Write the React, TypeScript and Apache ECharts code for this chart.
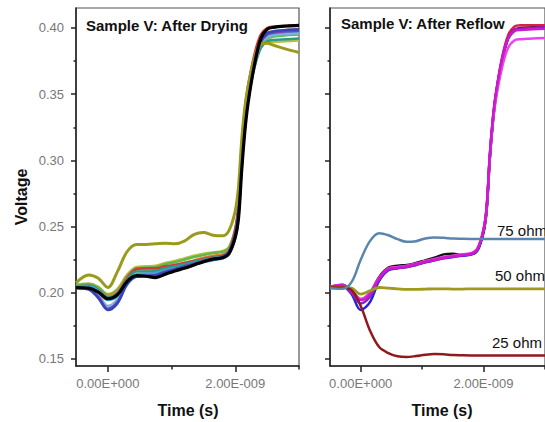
import React, { useEffect, useRef } from "react";
import * as echarts from "echarts";

// time in ns
const T = [-0.5, -0.3, -0.15, 0, 0.15, 0.3, 0.45, 0.6, 0.75, 0.9, 1.05, 1.2, 1.35, 1.5, 1.65, 1.8, 1.9, 2.0, 2.05, 2.1, 2.15, 2.2, 2.3, 2.4, 2.5, 2.6, 2.8, 3.0];

const yMajorTicks = [0.15, 0.2, 0.25, 0.3, 0.35, 0.4];
const yMinorTicks = [0.175, 0.225, 0.275, 0.325, 0.375];
const xMajorTicks = [0, 2];
const xMinorTicks = [1, 3];
const xTickLabels: Record<string, string> = { "0": "0.00E+000", "2": "2.00E-009" };

// Left panel: After Drying
const dryBlue = [0.2035, 0.2025, 0.196, 0.187, 0.192, 0.206, 0.212, 0.2125, 0.213, 0.2155, 0.2175, 0.2195, 0.2215, 0.2235, 0.225, 0.227, 0.231, 0.245, 0.262, 0.298, 0.326, 0.346, 0.373, 0.39, 0.396, 0.3975, 0.3985, 0.399];
const dryCyan = [0.2045, 0.2045, 0.2015, 0.1945, 0.1975, 0.208, 0.214, 0.2145, 0.215, 0.217, 0.2185, 0.22, 0.222, 0.2235, 0.225, 0.226, 0.229, 0.241, 0.256, 0.294, 0.324, 0.345, 0.374, 0.39, 0.395, 0.396, 0.397, 0.3975];
const dryTeal = [0.205, 0.2055, 0.2025, 0.1965, 0.1995, 0.21, 0.216, 0.216, 0.2165, 0.2185, 0.22, 0.2215, 0.2235, 0.225, 0.2265, 0.2275, 0.2305, 0.244, 0.26, 0.298, 0.326, 0.345, 0.37, 0.385, 0.39, 0.391, 0.3915, 0.392];
const dryGreen = [0.2055, 0.2065, 0.204, 0.1985, 0.202, 0.2125, 0.2185, 0.219, 0.2195, 0.2215, 0.223, 0.225, 0.227, 0.2285, 0.23, 0.231, 0.234, 0.248, 0.265, 0.305, 0.332, 0.35, 0.372, 0.387, 0.392, 0.3935, 0.3945, 0.395];
const dryOrange = [0.205, 0.2055, 0.203, 0.1975, 0.201, 0.212, 0.2175, 0.2175, 0.218, 0.2195, 0.221, 0.2225, 0.2245, 0.2265, 0.228, 0.229, 0.232, 0.247, 0.264, 0.303, 0.33, 0.349, 0.374, 0.39, 0.396, 0.3975, 0.3985, 0.399];
const dryRed = [0.2045, 0.2045, 0.202, 0.196, 0.1995, 0.211, 0.218, 0.2185, 0.2185, 0.22, 0.221, 0.2225, 0.224, 0.2255, 0.227, 0.228, 0.2315, 0.248, 0.268, 0.31, 0.338, 0.356, 0.38, 0.395, 0.4, 0.401, 0.4015, 0.402];
const dryPurple = [0.2035, 0.203, 0.197, 0.188, 0.193, 0.207, 0.2125, 0.213, 0.2135, 0.216, 0.218, 0.22, 0.222, 0.224, 0.2255, 0.2275, 0.2305, 0.244, 0.26, 0.296, 0.325, 0.345, 0.372, 0.389, 0.395, 0.3965, 0.3975, 0.398];
const dryLightBlue = [0.204, 0.204, 0.199, 0.19, 0.195, 0.2075, 0.2135, 0.2135, 0.214, 0.216, 0.218, 0.2195, 0.2215, 0.223, 0.2245, 0.226, 0.229, 0.242, 0.258, 0.295, 0.324, 0.344, 0.372, 0.388, 0.393, 0.3945, 0.3955, 0.396];
const dryYellowGreen = [0.206, 0.207, 0.2045, 0.199, 0.203, 0.2135, 0.2195, 0.22, 0.2205, 0.2225, 0.224, 0.226, 0.228, 0.2295, 0.2305, 0.2315, 0.2345, 0.249, 0.266, 0.305, 0.33, 0.348, 0.37, 0.385, 0.389, 0.3895, 0.39, 0.3905];
const dryOlive = [0.2075, 0.2135, 0.211, 0.204, 0.216, 0.231, 0.2365, 0.2365, 0.237, 0.2375, 0.237, 0.239, 0.244, 0.2455, 0.2435, 0.243, 0.247, 0.262, 0.28, 0.315, 0.34, 0.356, 0.377, 0.388, 0.3885, 0.387, 0.384, 0.3815];
const dryBlack = [0.204, 0.2035, 0.2005, 0.1955, 0.1985, 0.2085, 0.213, 0.2125, 0.2115, 0.214, 0.2165, 0.2185, 0.221, 0.2235, 0.2255, 0.2265, 0.2295, 0.242, 0.256, 0.292, 0.322, 0.343, 0.372, 0.392, 0.399, 0.4005, 0.4015, 0.402];

// Right panel: After Reflow
const reflowBlack = [0.2045, 0.2055, 0.202, 0.195, 0.2, 0.212, 0.219, 0.2205, 0.221, 0.2225, 0.2245, 0.2265, 0.229, 0.2295, 0.2285, 0.229, 0.232, 0.246, 0.262, 0.3, 0.328, 0.348, 0.375, 0.392, 0.3985, 0.4, 0.4005, 0.401];
const reflowBlue = [0.204, 0.205, 0.199, 0.187, 0.193, 0.209, 0.217, 0.2185, 0.2195, 0.221, 0.223, 0.2245, 0.226, 0.227, 0.228, 0.229, 0.232, 0.246, 0.263, 0.301, 0.329, 0.349, 0.376, 0.392, 0.398, 0.399, 0.3995, 0.4];
const reflowPurple = [0.204, 0.2055, 0.2, 0.192, 0.197, 0.21, 0.2175, 0.2185, 0.2195, 0.221, 0.223, 0.2245, 0.2262, 0.2272, 0.2282, 0.2292, 0.2325, 0.247, 0.264, 0.302, 0.33, 0.3495, 0.376, 0.3925, 0.3985, 0.3995, 0.4, 0.4005];
const reflowRed = [0.2045, 0.2058, 0.2012, 0.195, 0.1995, 0.2112, 0.2182, 0.2192, 0.2202, 0.2217, 0.2237, 0.2252, 0.2267, 0.2277, 0.2287, 0.2297, 0.233, 0.2475, 0.2645, 0.303, 0.331, 0.3505, 0.3775, 0.3945, 0.401, 0.402, 0.402, 0.402];
const reflowPink = [0.2045, 0.206, 0.2015, 0.1955, 0.2, 0.2115, 0.2185, 0.2195, 0.2205, 0.222, 0.224, 0.2255, 0.227, 0.228, 0.229, 0.23, 0.2335, 0.248, 0.264, 0.301, 0.328, 0.346, 0.37, 0.385, 0.3905, 0.3915, 0.392, 0.3925];
const reflowMagenta = [0.2045, 0.206, 0.201, 0.1945, 0.199, 0.211, 0.218, 0.219, 0.22, 0.2215, 0.2235, 0.225, 0.2265, 0.2275, 0.2285, 0.2295, 0.233, 0.248, 0.265, 0.303, 0.331, 0.35, 0.376, 0.392, 0.3975, 0.3985, 0.399, 0.3995];
const ohm75 = [0.2035, 0.203, 0.208, 0.225, 0.239, 0.245, 0.2435, 0.2405, 0.2385, 0.239, 0.241, 0.2418, 0.2415, 0.241, 0.2408, 0.2407, 0.2407, 0.2407, 0.2407, 0.2407, 0.2407, 0.2407, 0.2406, 0.2406, 0.2406, 0.2406, 0.2406, 0.2406];
const ohm50 = [0.204, 0.204, 0.2035, 0.199, 0.2015, 0.204, 0.2035, 0.203, 0.2025, 0.2025, 0.2028, 0.203, 0.203, 0.2028, 0.2028, 0.203, 0.203, 0.203, 0.203, 0.203, 0.203, 0.203, 0.203, 0.203, 0.203, 0.203, 0.203, 0.203];
const ohm25 = [0.204, 0.204, 0.202, 0.19, 0.1715, 0.159, 0.1545, 0.152, 0.1515, 0.1522, 0.1532, 0.1537, 0.1535, 0.153, 0.1528, 0.1527, 0.1527, 0.1527, 0.1527, 0.1527, 0.1527, 0.1527, 0.1526, 0.1526, 0.1526, 0.1526, 0.1526, 0.1526];

const leftSeries: [number[], string, number][] = [
  [dryYellowGreen, "#b5c23a", 2.5],
  [dryGreen, "#5fb84a", 2.5],
  [dryOrange, "#e0822e", 2.5],
  [dryRed, "#d23a3a", 2.5],
  [dryTeal, "#2a9a8c", 2.5],
  [dryLightBlue, "#7fb2e0", 2.5],
  [dryCyan, "#38a8d2", 2.5],
  [dryPurple, "#7a44a8", 2.5],
  [dryBlue, "#3344c0", 2.5],
  [dryOlive, "#9a9a1e", 3],
  [dryBlack, "#000000", 3.2],
];

const rightSeries: [number[], string, number][] = [
  [reflowBlack, "#111111", 2.5],
  [reflowBlue, "#2222d8", 2.5],
  [reflowRed, "#d8204a", 2.5],
  [reflowPurple, "#8a22c8", 2.5],
  [reflowPink, "#ea44ee", 2.5],
  [reflowMagenta, "#cc1acc", 2.5],
  [ohm50, "#9e9a1c", 2.8],
  [ohm25, "#8e1a1e", 2.5],
  [ohm75, "#5a86ae", 2.5],
];

const FONT = "'Liberation Sans', Arial, sans-serif";
const X_MIN = -0.5, X_MAX = 3.0, Y_MIN = 0.1447, Y_MAX = 0.4151;

function makeAxes(gridIndex: number, showYLabels: boolean) {
  const axisLine = { show: true, onZero: false, lineStyle: { color: "#222", width: 1.5 } };
  const noLine = { show: false, onZero: false };
  const xAxes = [
    {
      type: "value", gridIndex, min: X_MIN, max: X_MAX, position: "bottom",
      axisLine, splitLine: { show: false },
      axisTick: { show: true, customValues: xMajorTicks, length: 6, lineStyle: { color: "#222", width: 1.5 } },
      axisLabel: {
        show: true, customValues: xMajorTicks, margin: 11, color: "#777", fontSize: 13, fontFamily: FONT,
        formatter: (v: number) => xTickLabels[String(Math.round(v))] ?? "",
      },
    },
    {
      type: "value", gridIndex, min: X_MIN, max: X_MAX, position: "bottom",
      axisLine: noLine, splitLine: { show: false },
      axisTick: { show: true, customValues: xMinorTicks, length: 3.5, lineStyle: { color: "#222", width: 1.5 } },
      axisLabel: { show: false },
    },
  ];
  const yAxes = [
    {
      type: "value", gridIndex, min: Y_MIN, max: Y_MAX, position: "left",
      axisLine, splitLine: { show: false },
      axisTick: { show: true, customValues: yMajorTicks, length: 5, lineStyle: { color: "#222", width: 1.5 } },
      axisLabel: {
        show: showYLabels, customValues: yMajorTicks, margin: 12, color: "#777", fontSize: 13, fontFamily: FONT,
        formatter: (v: number) => v.toFixed(2),
      },
    },
    {
      type: "value", gridIndex, min: Y_MIN, max: Y_MAX, position: "left",
      axisLine: noLine, splitLine: { show: false },
      axisTick: { show: true, customValues: yMinorTicks, length: 2.5, lineStyle: { color: "#222", width: 1.5 } },
      axisLabel: { show: false },
    },
  ];
  return { xAxes, yAxes };
}

export default function App() {
  const ref = useRef<HTMLDivElement>(null);
  useEffect(() => {
    if (!ref.current) return;
    const chart = echarts.init(ref.current, undefined, { renderer: "svg" });
    const a0 = makeAxes(0, true);
    const a1 = makeAxes(1, false);
    const mk = (list: [number[], string, number][], xi: number, yi: number) =>
      list.map(([vals, color, w]) => ({
        type: "line",
        xAxisIndex: xi,
        yAxisIndex: yi,
        data: T.map((t, i) => [t, vals[i]]),
        smooth: 0.35,
        symbol: "none",
        lineStyle: { color, width: w },
        clip: true,
      }));
    const textStyle = (text: string, size: number, bold: boolean) => ({
      text, fontSize: size, fontWeight: bold ? "bold" : "normal", fontFamily: FONT, fill: "#111",
    });
    chart.setOption({
      animation: false,
      backgroundColor: "#ffffff",
      grid: [
        { left: 76, top: 8, width: 223, height: 358, show: true, borderColor: "#555", borderWidth: 1.2 },
        { left: 330, top: 8, width: 223, height: 358, show: true, borderColor: "#555", borderWidth: 1.2 },
      ],
      xAxis: [...a0.xAxes, ...a1.xAxes],
      yAxis: [...a0.yAxes, ...a1.yAxes],
      series: [...mk(leftSeries, 0, 0), ...mk(rightSeries, 2, 2)],
      graphic: [
        { type: "text", x: 86, y: 25, z: 100, style: { ...textStyle("Sample V: After Drying", 15, true), textVerticalAlign: "middle" } },
        { type: "text", x: 341, y: 23, z: 100, style: { ...textStyle("Sample V: After Reflow", 15, true), textVerticalAlign: "middle" } },
        { type: "text", x: 21, y: 197, rotation: Math.PI / 2, z: 100, style: { ...textStyle("Voltage", 16, true), textAlign: "center", textVerticalAlign: "middle" } },
        { type: "text", x: 188, y: 410, z: 100, style: { ...textStyle("Time (s)", 16, true), textAlign: "center", textVerticalAlign: "middle" } },
        { type: "text", x: 442, y: 410, z: 100, style: { ...textStyle("Time (s)", 16, true), textAlign: "center", textVerticalAlign: "middle" } },
        { type: "text", x: 497, y: 230, z: 100, style: { ...textStyle("75 ohm", 15, false), textVerticalAlign: "middle" } },
        { type: "text", x: 495, y: 275, z: 100, style: { ...textStyle("50 ohm", 15, false), textVerticalAlign: "middle" } },
        { type: "text", x: 492, y: 342, z: 100, style: { ...textStyle("25 ohm", 15, false), textVerticalAlign: "middle" } },
      ],
    });
    return () => chart.dispose();
  }, []);
  return (
    <div
      ref={ref}
      style={{ position: "fixed", left: 0, top: 0, width: 545, height: 422, background: "#fff", overflow: "hidden" }}
    />
  );
}
